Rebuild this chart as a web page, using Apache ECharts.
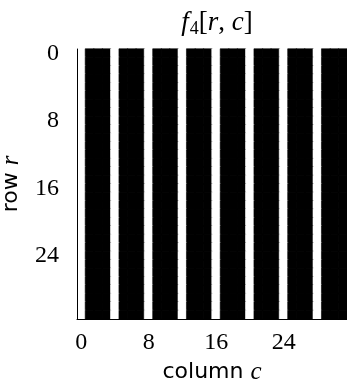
<!DOCTYPE html>
<html lang="en">
<head>
    <meta charset="utf-8">
    <title>f4[r,c]</title>
    <script type="text/javascript" src="https://cdn.jsdelivr.net/npm/echarts@6/dist/echarts.min.js"></script>
    <style type="text/css">
        html, body { margin: 0; padding: 0; background: #fff; }
        #main { width: 347px; height: 385px; }
    </style>
</head>
<body>
<div id="main"></div>
<script type="text/javascript">
    // row / column indices
    var rows = ['0','1','2','3','4','5','6','7','8','9','10','11','12','13','14','15',
        '16','17','18','19','20','21','22','23','24','25','26','27','28','29','30','31'];
    var columns = ['0','1','2','3','4','5','6','7','8','9','10','11','12','13','14','15',
        '16','17','18','19','20','21','22','23','24','25','26','27','28','29','30','31'];
    // value of each column (same in every row): white = 1, black = 0
    var columnValues = [1,0,0,0, 1,0,0,0, 1,0,0,0, 1,0,0,0,
        1,0,0,0, 1,0,0,0, 1,0,0,0, 1,0,0,0];

    var serif = '"Liberation Serif", "DejaVu Serif", serif';
    var sans = '"DejaVu Sans", "Noto Sans", sans-serif';

    var cells = [];
    for (var r = 0; r < rows.length; r++) {
        for (var c = 0; c < columns.length; c++) {
            var v = columnValues[c];
            // border in the cell's own colour hides the anti-aliasing seams
            cells.push({
                value: [c, r, v],
                itemStyle: { borderColor: v ? '#ffffff' : '#000000', borderWidth: 0.6 }
            });
        }
    }

    var myChart = echarts.init(document.getElementById('main'));

    var option = {
        backgroundColor: '#ffffff',
        animation: false,
        title: {
            text: '{f|f}{s|4}{b|[}{i|r}{b|, }{i|c}{b|]}',
            left: 212,
            top: 3,
            textAlign: 'center',
            textStyle: {
                fontWeight: 'normal',
                rich: {
                    f: { fontFamily: serif, fontStyle: 'italic', fontWeight: 'normal', fontSize: 27, color: '#000' },
                    s: { fontFamily: serif, fontWeight: 'normal', fontSize: 18, color: '#000', padding: [12, 0, 0, 1] },
                    b: { fontFamily: serif, fontWeight: 'normal', fontSize: 27, color: '#000' },
                    i: { fontFamily: serif, fontStyle: 'italic', fontWeight: 'normal', fontSize: 27, color: '#000' }
                }
            }
        },
        grid: {
            left: 77,
            top: 49,
            width: 270,
            height: 270,
            outerBoundsMode: 'none'
        },
        visualMap: {
            show: false,
            min: 0,
            max: 1,
            inRange: { color: ['#000000', '#ffffff'] }
        },
        xAxis: {
            type: 'category',
            data: columns,
            z: 10,
            name: '{t|column }{i|c}',
            nameLocation: 'middle',
            nameGap: 38,
            nameTextStyle: {
                rich: {
                    t: { fontFamily: sans, fontSize: 22, color: '#000' },
                    i: { fontFamily: serif, fontStyle: 'italic', fontSize: 25, color: '#000' }
                }
            },
            axisLine: { lineStyle: { color: '#000', width: 1 } },
            axisTick: { alignWithLabel: true, interval: 7, length: 6, lineStyle: { color: '#000' } },
            axisLabel: { interval: 7, margin: 12, fontFamily: serif, fontSize: 24, color: '#000' },
            splitLine: { show: false }
        },
        yAxis: {
            type: 'category',
            data: rows,
            inverse: true,
            z: 10,
            name: '{t|row }{i|r}',
            nameLocation: 'middle',
            nameGap: 49,
            nameRotate: 90,
            nameTextStyle: {
                rich: {
                    t: { fontFamily: sans, fontSize: 22, color: '#000' },
                    i: { fontFamily: serif, fontStyle: 'italic', fontSize: 25, color: '#000' }
                }
            },
            axisLine: { lineStyle: { color: '#000', width: 1 } },
            axisTick: { alignWithLabel: true, interval: 7, length: 6, lineStyle: { color: '#000' } },
            axisLabel: { interval: 7, margin: 18, fontFamily: serif, fontSize: 24, color: '#000' },
            splitLine: { show: false }
        },
        series: [{
            type: 'heatmap',
            data: cells,
            emphasis: { disabled: true }
        }]
    };

    myChart.setOption(option);
</script>
</body>
</html>
